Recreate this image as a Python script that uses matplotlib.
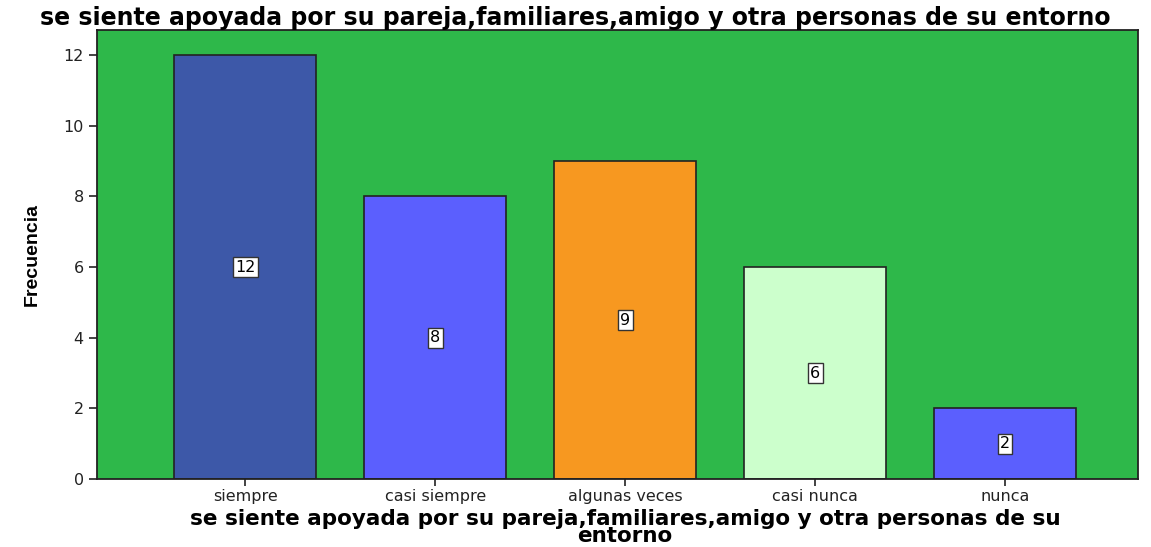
import matplotlib
matplotlib.use('Agg')
from matplotlib import pyplot as plt

categories = ['siempre', 'casi siempre', 'algunas veces', 'casi nunca', 'nunca']
counts = [12, 8, 9, 6, 2]
colors = ['#3d58a8', '#5b5ffe', '#f79820', '#ccffcc', '#5b5ffe']

plt.rcParams['font.family'] = ['DejaVu Sans']

fig = plt.figure(figsize=(11.51, 5.47), dpi=100)
ax = fig.add_axes([0.0843, 0.1243, 0.9044, 0.8207])
ax.set_facecolor('#2eb84a')

x = range(len(categories))
bars = ax.bar(x, counts, width=0.747, color=colors, edgecolor='#222222', linewidth=1.2)

for xi, c in zip(x, counts):
    ax.text(xi, c / 2, str(c), ha='center', va='center', fontsize=11.5,
            bbox=dict(boxstyle='square,pad=0.15', facecolor='white', edgecolor='#333333', linewidth=1))

ax.set_xlim(-0.78, 4.70)
ax.set_ylim(0, 12.71)
ax.set_yticks([0, 2, 4, 6, 8, 10, 12])
ax.set_xticks(list(x))
ax.set_xticklabels(categories)
ax.tick_params(axis='both', direction='out', labelsize=11.5, colors='#222222', length=6, width=1.2)
ax.tick_params(axis='x', length=5, pad=2)
for s in ax.spines.values():
    s.set_color('#222222')
    s.set_linewidth(1.3)

fig.text(0.5, 0.968, 'se siente apoyada por su pareja,familiares,amigo y otra personas de su entorno',
         ha='center', va='center', fontsize=17, fontweight='bold')
# two-line x label, placed so the second line stays inside the figure
fig.text(0.543, 0.002, 'se siente apoyada por su pareja,familiares,amigo y otra personas de su\nentorno',
         ha='center', va='bottom', multialignment='center', fontsize=15.5, fontweight='bold',
         linespacing=0.8)
ax.set_ylabel('Frecuencia', fontsize=14, fontweight='bold',
              family=['Liberation Sans Narrow', 'Liberation Sans'], labelpad=16)

fig.savefig('out.png', dpi=100)
